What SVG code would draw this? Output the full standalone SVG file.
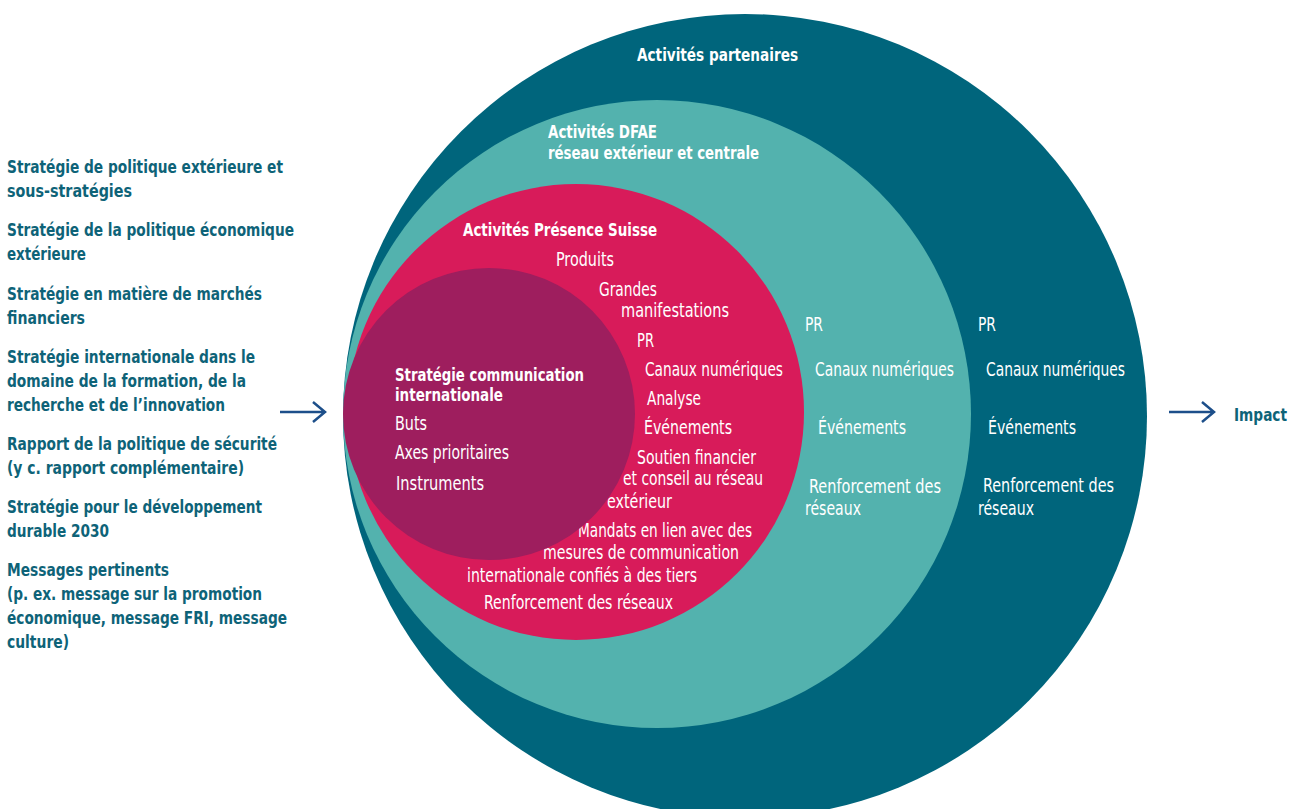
<svg xmlns="http://www.w3.org/2000/svg" width="1299" height="809" viewBox="0 0 1299 809">
<style>
text{font-family:"DejaVu Sans Condensed","DejaVu Sans","Liberation Sans",sans-serif;font-stretch:condensed;}
.w{fill:#ffffff;font-size:19px;}
.wb{fill:#ffffff;font-size:18.5px;font-weight:bold;}
.lb{fill:#0e6378;font-size:18.5px;font-weight:bold;}
.arr{stroke:#1d4f8a;stroke-width:2.5;fill:none;}
</style>
<rect width="1299" height="809" fill="#ffffff"/>
<g id="circle-partenaires">
<circle cx="745" cy="416" r="402" fill="#00657c"/>
<text class="wb" x="637" y="61" textLength="161" lengthAdjust="spacingAndGlyphs">Activités partenaires</text>
<text class="w" x="978" y="331" textLength="18" lengthAdjust="spacingAndGlyphs">PR</text>
<text class="w" x="986" y="376" textLength="139" lengthAdjust="spacingAndGlyphs">Canaux numériques</text>
<text class="w" x="988" y="434" textLength="88" lengthAdjust="spacingAndGlyphs">Événements</text>
<text class="w" x="983" y="492" textLength="131" lengthAdjust="spacingAndGlyphs">Renforcement des</text>
<text class="w" x="978" y="515" textLength="56" lengthAdjust="spacingAndGlyphs">réseaux</text>
</g>
<g id="circle-dfae">
<circle cx="657" cy="414" r="314" fill="#53b2ae"/>
<text class="wb" x="548" y="138" textLength="109" lengthAdjust="spacingAndGlyphs">Activités DFAE</text>
<text class="wb" x="548" y="159" textLength="211" lengthAdjust="spacingAndGlyphs">réseau extérieur et centrale</text>
<text class="w" x="805" y="331" textLength="18" lengthAdjust="spacingAndGlyphs">PR</text>
<text class="w" x="815" y="376" textLength="139" lengthAdjust="spacingAndGlyphs">Canaux numériques</text>
<text class="w" x="818" y="434" textLength="88" lengthAdjust="spacingAndGlyphs">Événements</text>
<text class="w" x="809" y="493" textLength="132" lengthAdjust="spacingAndGlyphs">Renforcement des</text>
<text class="w" x="805" y="515" textLength="56" lengthAdjust="spacingAndGlyphs">réseaux</text>
</g>
<g id="circle-presence-suisse">
<circle cx="576" cy="412" r="228" fill="#d81b5a"/>
<text class="wb" x="463" y="236" textLength="194" lengthAdjust="spacingAndGlyphs">Activités Présence Suisse</text>
<text class="w" x="556" y="266" textLength="58" lengthAdjust="spacingAndGlyphs">Produits</text>
<text class="w" x="599" y="296" textLength="58" lengthAdjust="spacingAndGlyphs">Grandes</text>
<text class="w" x="621" y="317" textLength="108" lengthAdjust="spacingAndGlyphs">manifestations</text>
<text class="w" x="637" y="347" textLength="17" lengthAdjust="spacingAndGlyphs">PR</text>
<text class="w" x="645" y="376" textLength="138" lengthAdjust="spacingAndGlyphs">Canaux numériques</text>
<text class="w" x="647" y="405" textLength="54" lengthAdjust="spacingAndGlyphs">Analyse</text>
<text class="w" x="644" y="434" textLength="88" lengthAdjust="spacingAndGlyphs">Événements</text>
<text class="w" x="637" y="464" textLength="119" lengthAdjust="spacingAndGlyphs">Soutien financier</text>
<text class="w" x="623" y="485" textLength="140" lengthAdjust="spacingAndGlyphs">et conseil au réseau</text>
<text class="w" x="607" y="508" textLength="65" lengthAdjust="spacingAndGlyphs">extérieur</text>
<text class="w" x="578" y="537" textLength="174" lengthAdjust="spacingAndGlyphs">Mandats en lien avec des</text>
<text class="w" x="543" y="559" textLength="196" lengthAdjust="spacingAndGlyphs">mesures de communication</text>
<text class="w" x="467" y="582" textLength="230" lengthAdjust="spacingAndGlyphs">internationale confiés à des tiers</text>
<text class="w" x="484" y="609" textLength="189" lengthAdjust="spacingAndGlyphs">Renforcement des réseaux</text>
</g>
<g id="circle-strategie">
<circle cx="489" cy="414" r="146" fill="#9e1e5e"/>
<text class="wb" x="395" y="381" textLength="189" lengthAdjust="spacingAndGlyphs">Stratégie communication</text>
<text class="wb" x="395" y="401" textLength="108" lengthAdjust="spacingAndGlyphs">internationale</text>
<text class="w" x="395" y="430" textLength="32" lengthAdjust="spacingAndGlyphs">Buts</text>
<text class="w" x="395" y="459" textLength="114" lengthAdjust="spacingAndGlyphs">Axes prioritaires</text>
<text class="w" x="396" y="490" textLength="88" lengthAdjust="spacingAndGlyphs">Instruments</text>
</g>
<g id="inputs">
<text class="lb" x="7" y="173" textLength="276" lengthAdjust="spacingAndGlyphs">Stratégie de politique extérieure et</text>
<text class="lb" x="7" y="197" textLength="125" lengthAdjust="spacingAndGlyphs">sous-stratégies</text>
<text class="lb" x="7" y="236" textLength="287" lengthAdjust="spacingAndGlyphs">Stratégie de la politique économique</text>
<text class="lb" x="7" y="260" textLength="79" lengthAdjust="spacingAndGlyphs">extérieure</text>
<text class="lb" x="7" y="300" textLength="255" lengthAdjust="spacingAndGlyphs">Stratégie en matière de marchés</text>
<text class="lb" x="7" y="324" textLength="78" lengthAdjust="spacingAndGlyphs">financiers</text>
<text class="lb" x="7" y="363" textLength="248" lengthAdjust="spacingAndGlyphs">Stratégie internationale dans le</text>
<text class="lb" x="7" y="387" textLength="239" lengthAdjust="spacingAndGlyphs">domaine de la formation, de la</text>
<text class="lb" x="7" y="411" textLength="218" lengthAdjust="spacingAndGlyphs">recherche et de l’innovation</text>
<text class="lb" x="7" y="450" textLength="270" lengthAdjust="spacingAndGlyphs">Rapport de la politique de sécurité</text>
<text class="lb" x="7" y="474" textLength="237" lengthAdjust="spacingAndGlyphs">(y c. rapport complémentaire)</text>
<text class="lb" x="7" y="513" textLength="255" lengthAdjust="spacingAndGlyphs">Stratégie pour le développement</text>
<text class="lb" x="7" y="537" textLength="102" lengthAdjust="spacingAndGlyphs">durable 2030</text>
<text class="lb" x="7" y="576" textLength="162" lengthAdjust="spacingAndGlyphs">Messages pertinents</text>
<text class="lb" x="7" y="600" textLength="255" lengthAdjust="spacingAndGlyphs">(p. ex. message sur la promotion</text>
<text class="lb" x="7" y="624" textLength="280" lengthAdjust="spacingAndGlyphs">économique, message FRI, message</text>
<text class="lb" x="7" y="648" textLength="62" lengthAdjust="spacingAndGlyphs">culture)</text>
</g>
<g id="impact">
<text class="lb" x="1234" y="421" textLength="53" lengthAdjust="spacingAndGlyphs">Impact</text>
</g>
<g id="connectors">
<path class="arr" d="M280 412H324M313 402L325 412L313 422"/>
<path class="arr" d="M1169 412H1213M1202 402L1214 412L1202 422"/>
</g>
</svg>
